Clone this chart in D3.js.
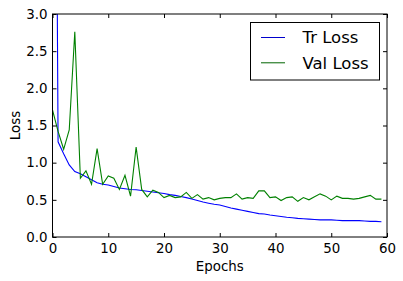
<!DOCTYPE html>
<html><head><meta charset="utf-8">
<script src="https://cdn.jsdelivr.net/npm/d3@7"></script>
<style>body{margin:0;background:#fff;} svg{display:block;font-family:"DejaVu Sans",sans-serif;}</style>
</head><body>
<script>
const epochs = d3.range(0, 60);
const trLoss = [14.0,1.28,1.12,0.97,0.88,0.85,0.81,0.77,0.73,0.71,0.70,0.68,0.66,0.65,0.64,0.635,0.625,0.615,0.605,0.595,0.585,0.57,0.56,0.545,0.53,0.51,0.49,0.47,0.455,0.44,0.43,0.41,0.39,0.375,0.36,0.345,0.33,0.315,0.31,0.295,0.285,0.275,0.265,0.26,0.25,0.245,0.24,0.235,0.23,0.23,0.23,0.225,0.22,0.22,0.22,0.22,0.215,0.21,0.21,0.205];
const valLoss = [1.71,1.42,1.18,1.44,2.76,0.79,0.89,0.71,1.19,0.71,0.82,0.79,0.64,0.83,0.55,1.21,0.64,0.54,0.63,0.60,0.53,0.56,0.53,0.54,0.60,0.52,0.57,0.51,0.53,0.50,0.52,0.53,0.53,0.58,0.51,0.53,0.52,0.62,0.62,0.53,0.54,0.49,0.53,0.54,0.48,0.53,0.50,0.54,0.58,0.55,0.50,0.55,0.52,0.52,0.51,0.52,0.54,0.56,0.51,0.51];
const xTicks = [0,10,20,30,40,50,60];
const yTicks = [0.0,0.5,1.0,1.5,2.0,2.5,3.0];
const seriesNames = ["Tr Loss","Val Loss"];
const seriesColors = ["#0000ff","#008000"];

const W=403,H=281;
const L=52.5,R=387,T=14,B=237;
const svg=d3.select("body").append("svg").attr("width",W).attr("height",H);
const x=d3.scaleLinear().domain([0,60]).range([L,R]);
const y=d3.scaleLinear().domain([0,3]).range([B,T]);

svg.append("clipPath").attr("id","clip").append("rect").attr("x",L).attr("y",T).attr("width",R-L).attr("height",B-T);
const line=d3.line().x((d,i)=>x(epochs[i])).y(d=>y(d));
const g=svg.append("g").attr("clip-path","url(#clip)");
[trLoss,valLoss].forEach((s,k)=>{
  g.append("path").datum(s).attr("d",line).attr("fill","none").attr("stroke",seriesColors[k]).attr("stroke-width",1.1);
});

// frame
svg.append("rect").attr("x",L).attr("y",T).attr("width",R-L).attr("height",B-T).attr("fill","none").attr("stroke","#000").attr("stroke-width",1);

// axes with inward ticks
const fs=13.4;
const xb=svg.append("g").attr("transform",`translate(0,${B})`).call(d3.axisBottom(x).tickValues(xTicks).tickFormat(d3.format("d")).tickSizeInner(-4).tickSizeOuter(0).tickPadding(6));
const xt=svg.append("g").attr("transform",`translate(0,${T})`).call(d3.axisTop(x).tickValues(xTicks).tickFormat("").tickSizeInner(-4).tickSizeOuter(0));
const yl=svg.append("g").attr("transform",`translate(${L},0)`).call(d3.axisLeft(y).tickValues(yTicks).tickFormat(d3.format(".1f")).tickSizeInner(-4).tickSizeOuter(0).tickPadding(5));
const yr=svg.append("g").attr("transform",`translate(${R},0)`).call(d3.axisRight(y).tickValues(yTicks).tickFormat("").tickSizeInner(-4).tickSizeOuter(0));
[xb,xt,yl,yr].forEach(a=>{a.select(".domain").remove();a.selectAll("text").attr("font-size",fs).attr("fill","#000").attr("font-family","DejaVu Sans");a.selectAll("line").attr("stroke","#000");});

svg.append("text").attr("x",(L+R)/2).attr("y",271).attr("text-anchor","middle").attr("font-size",fs).text("Epochs");
svg.append("text").attr("transform",`translate(20,${(T+B)/2}) rotate(-90)`).attr("text-anchor","middle").attr("font-size",fs).text("Loss");

// legend
const lg=svg.append("g");
lg.append("rect").attr("x",250.5).attr("y",22.5).attr("width",129).attr("height",57.5).attr("fill","#fff").attr("stroke","#000");
seriesNames.forEach((n,i)=>{
  const yy=37.5+i*25.3;
  lg.append("line").attr("x1",261).attr("x2",285).attr("y1",yy).attr("y2",yy).attr("stroke",seriesColors[i]==="#0000ff"?"#0000cc":"#006400").attr("stroke-width",1);
  lg.append("text").attr("x",302.5).attr("y",yy).attr("dy","0.36em").attr("font-size",16.5).text(n);
});
</script>
</body></html>
